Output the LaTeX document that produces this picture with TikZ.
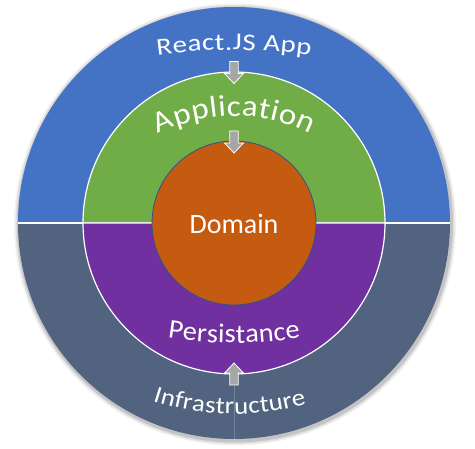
\documentclass[tikz,border=0pt]{standalone}
\usepackage{fontspec}
\setmainfont{Carlito}
\newfontfamily\reactfont[FakeStretch=1.2]{Carlito}
\newfontfamily\appfont[FakeStretch=1.1]{Carlito}
\newfontfamily\persistfont[FakeStretch=1.05]{Carlito}
\newfontfamily\infrafont[FakeStretch=1.12]{Carlito}
\usepackage{xcolor}
\usetikzlibrary{decorations.text}
\definecolor{appblue}{RGB}{68,114,196}
\definecolor{infragray}{RGB}{82,99,128}
\definecolor{appgreen}{RGB}{112,173,71}
\definecolor{persistpurple}{RGB}{112,48,160}
\definecolor{domainorange}{RGB}{197,90,17}
\definecolor{rimblue}{RGB}{47,82,143}

\begin{document}
\begin{tikzpicture}[x=1pt,y=1pt,
  ring/.style={draw=white,line width=1.2pt},
  ringtext/.style={decorate,decoration={text along path,text color=white,
    text align={fit to path},text={#1}}},
  blockarrow/.style={fill=black!35,draw=white,line width=0.8pt}]
  \useasboundingbox (-234,-226) rectangle (241,223);

  % soft shadow round the outer ring
  \foreach \r/\o in {221/0.05,219.5/0.08,218/0.12}{
    \fill[black,opacity=\o] (1,-1.5) circle (\r);
  }
  \fill[appblue] (0:216) arc (0:180:216) -- cycle;
  \fill[infragray] (180:216) arc (180:360:216) -- cycle;
  \draw[white,line width=1.2pt] (-216,0) -- (216,0);
  \draw[white,opacity=0.2,line width=0.6pt] (0,-151) -- (0,-216);

  \filldraw[ring,fill=appgreen] (0,0) -- (180:151) arc (180:0:151) -- cycle;
  \filldraw[ring,fill=persistpurple] (0,0) -- (180:151) arc (180:360:151) -- cycle;

  \filldraw[draw=rimblue,fill=domainorange,line width=0.8pt] (0,0) circle (82);
  \node[text=white,font=\fontsize{28}{30}\selectfont] (domain) at (0,-1) {Domain};

  \foreach \y/\a in {150.5/0,81/0,-151/180}{
    \draw[blockarrow,shift={(0,\y)},rotate=\a]
      (-4.2,11) -- (4.2,11) -- (4.2,-1) -- (9.5,-1) -- (0,-11) -- (-9.5,-1) -- (-4.2,-1) -- cycle;
  }

  % ring labels
  \path[ringtext={|\reactfont\fontsize{24}{28}\selectfont|React.JS App}]
    ([shift={(0,-377)}]98:550) arc[start angle=98,end angle=82,radius=550];
  \path[ringtext={|\appfont\fontsize{30}{33}\selectfont|Application}]
    ([shift={(0,-62)}]116.7:169) arc[start angle=116.7,end angle=63.3,radius=169];
  \path[ringtext={|\persistfont\fontsize{27}{30}\selectfont|Persistance}]
    ([shift={(0,305)}]261:425) arc[start angle=261,end angle=279,radius=425];
  \path[ringtext={|\infrafont\fontsize{24}{28}\selectfont|Infrastructure}]
    ([shift={(0,72)}]252:263) arc[start angle=252,end angle=286,radius=263];
\end{tikzpicture}
\end{document}
